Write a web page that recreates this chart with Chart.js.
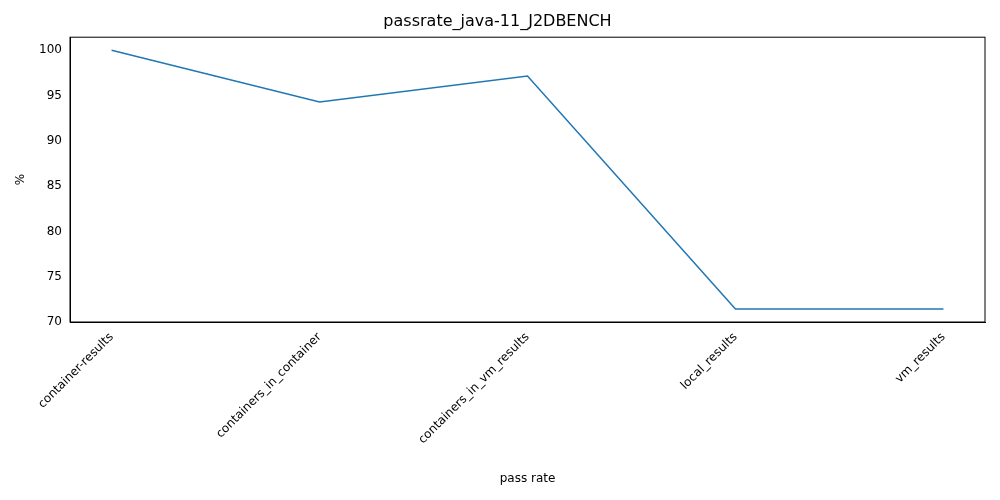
<!DOCTYPE html>
<html><head><meta charset="utf-8">
<script src="https://cdn.jsdelivr.net/npm/chart.js@4/dist/chart.umd.min.js"></script>
<style>body{margin:0;background:#fff}#wrap{width:1000px;height:500px}</style>
</head><body><div id="wrap"><canvas id="c"></canvas></div>
<script>
// categorias e valores
const categories = ['container-results', 'containers_in_container', 'containers_in_vm_results', 'local_results', 'vm_results'];
const passRates = [100, 94.29, 97.14, 71.43, 71.43];
const yTicks = [70, 75, 80, 85, 90, 95, 100];

const font = { family: 'DejaVu Sans', size: 12 };
Chart.defaults.color = '#000';

new Chart(document.getElementById('c'), {
  type: 'line',
  data: {
    datasets: [{
      data: passRates.map((v, i) => ({ x: i, y: v })),
      borderColor: '#1f77b4', borderWidth: 1.5, pointRadius: 0, tension: 0, fill: false
    }]
  },
  options: {
    responsive: true, maintainAspectRatio: false, animation: false,
    layout: { padding: { left: 10, right: 15, bottom: 10, top: 0 } },
    plugins: {
      legend: { display: false }, tooltip: { enabled: false },
      title: { display: true, text: 'passrate_java-11_J2DBENCH', font: { family: 'DejaVu Sans', size: 16, weight: 'normal' }, padding: { top: 12, bottom: 6 }, color: '#000' }
    },
    scales: {
      x: {
        type: 'linear', min: -0.2, max: 4.2,
        afterBuildTicks: ax => { ax.ticks = categories.map((_, i) => ({ value: i })); },
        afterFit: ax => { ax.height = 168; },
        ticks: { callback: v => categories[v], maxRotation: 45, minRotation: 45, font, autoSkip: false },
        grid: { display: false, drawTicks: true, tickLength: 5 },
        border: { color: '#000' },
        title: { display: true, text: 'pass rate', font }
      },
      y: {
        min: 70, max: 101.43,
        afterBuildTicks: ax => { ax.ticks = yTicks.map(v => ({ value: v })); },
        afterFit: ax => { ax.width = 60; },
        ticks: { font },
        grid: { display: false, tickLength: 5 },
        border: { color: '#000' },
        title: { display: true, text: '%', font }
      }
    }
  },
  plugins: [{
    id: 'frame',
    afterDraw(chart) {
      const { ctx, chartArea: a } = chart;
      ctx.save(); ctx.strokeStyle = '#000'; ctx.lineWidth = 1;
      ctx.strokeRect(a.left, a.top, a.right - a.left, a.bottom - a.top);
      ctx.restore();
    }
  }]
});
</script></body></html>
